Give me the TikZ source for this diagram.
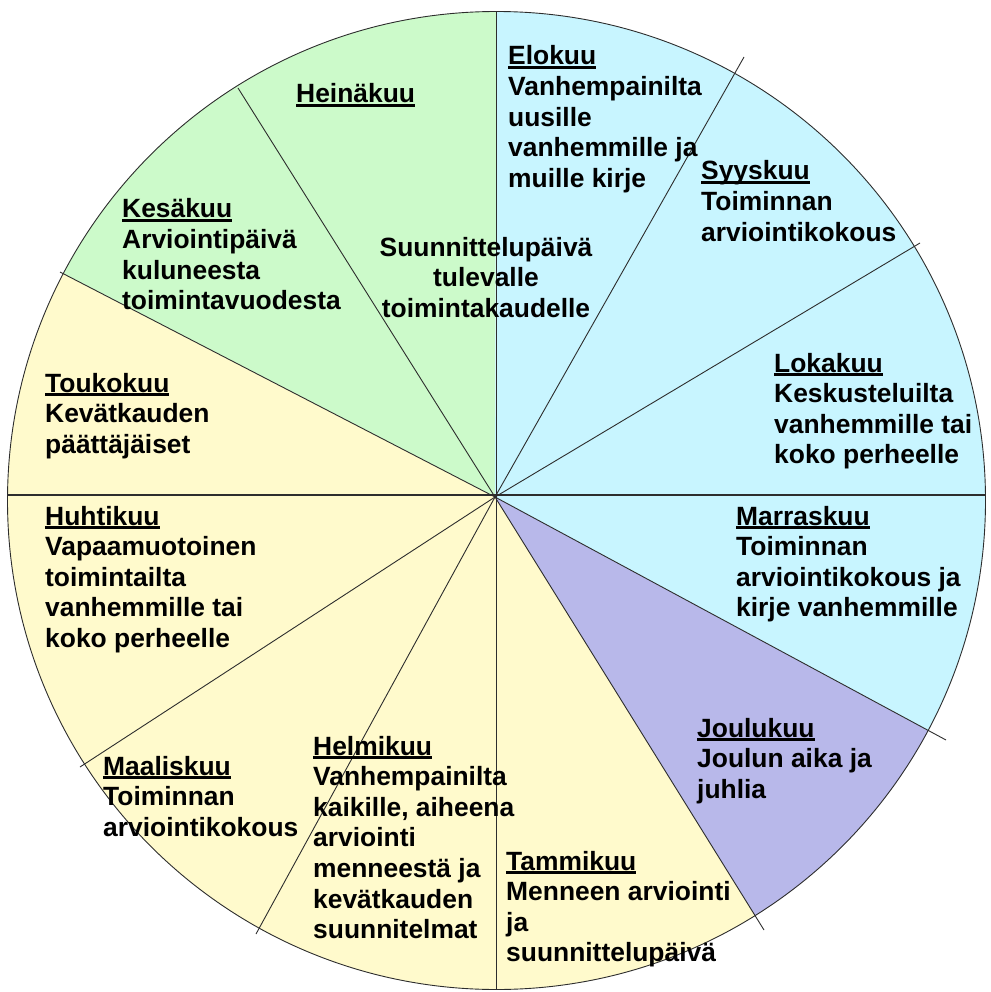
\documentclass[tikz,border=0pt]{standalone}
\usepackage{fontspec}
\setmainfont{Liberation Sans}
\usetikzlibrary{calc}

\definecolor{summergreen}{RGB}{204,250,202}
\definecolor{autumncyan}{RGB}{200,245,255}
\definecolor{springyellow}{RGB}{255,250,204}
\definecolor{xmaslilac}{RGB}{184,184,234}
\definecolor{rimgray}{RGB}{45,45,45}

% month heading with a fixed-depth underline
\newcommand\monthhead[1]{\setbox0=\hbox{#1}\rlap{\rule[-4pt]{\wd0}{2.7pt}}\box0}
% text blocks that hang from the baseline of their first line
\newcommand\leftblock[1]{\begin{tabular}[t]{@{}l@{}}#1\end{tabular}}
\newcommand\midblock[1]{\begin{tabular}[t]{@{}c@{}}#1\end{tabular}}

\tikzset{
  wheelfont/.style={font=\fontsize{26.4pt}{30.6pt}\selectfont\bfseries},
  monthtext/.style={wheelfont, anchor=base west, inner sep=0pt},
  centretext/.style={wheelfont, anchor=base, inner sep=0pt},
  spoke/.style={draw=rimgray, line width=0.9pt},
  axis/.style={draw=rimgray, line width=1.4pt},
  rim/.style={draw=rimgray, line width=0.9pt}
}

\begin{document}
\begin{tikzpicture}[x=1pt,y=-1pt]
\useasboundingbox (0,0) rectangle (990,992);

% wheel centre, hub where the spokes meet, spoke ends on the rim
\coordinate (C) at (496.5,500.5);
\coordinate (S) at (495,497);
\coordinate (e1) at (238,88);
\coordinate (e2) at (60,272);
\coordinate (e4) at (80,767);
\coordinate (e5) at (256,934);
\coordinate (e7) at (764,930);
\coordinate (e8) at (946,740);
\coordinate (e10) at (920,243);
\coordinate (e11) at (744,57);
\coordinate (top) at (496.5,0);
\coordinate (bot) at (496.5,992);
\coordinate (lft) at (0,497);
\coordinate (rgt) at (990,497);

% sector fills, clipped to the wheel
\begin{scope}
  \clip (C) circle[radius=489pt];
  \fill[summergreen] (S) -- ($(S)!2!(top)$) -- ($(S)!1.8!(e1)$) -- ($(S)!1.8!(e2)$) -- cycle;
  \fill[springyellow] (S) -- ($(S)!1.8!(e2)$) -- ($(S)!2!(lft)$) -- ($(S)!1.8!(e4)$)
        -- ($(S)!1.8!(e5)$) -- ($(S)!2!(bot)$) -- ($(S)!1.8!(e7)$) -- cycle;
  \fill[xmaslilac] (S) -- ($(S)!1.8!(e7)$) -- ($(S)!1.8!(e8)$) -- cycle;
  \fill[autumncyan] (S) -- ($(S)!1.8!(e8)$) -- ($(S)!2!(rgt)$) -- ($(S)!1.8!(e10)$)
        -- ($(S)!1.8!(e11)$) -- ($(S)!2!(top)$) -- cycle;
\end{scope}

% rim
\draw[rim] (C) circle[radius=489pt];

% axes
\draw[axis] (496.5,12) -- (496.5,990);
\draw[axis, line width=1.1pt] (8,495) -- (985,495);

% diagonal spokes
\foreach \e in {e1,e2,e4,e5,e7,e8,e10,e11}
  \draw[spoke] (S) -- (\e);

% texts
\node[monthtext] (heina) at (296,103) {\monthhead{Heinäkuu}};
\node[monthtext] (kesa) at (122,218) {\leftblock{\monthhead{Kesäkuu}\\Arviointipäivä\\kuluneesta\\toimintavuodesta}};
\node[monthtext] (touko) at (45,392) {\leftblock{\monthhead{Toukokuu}\\Kevätkauden\\päättäjäiset}};
\node[monthtext] (huhti) at (45,525) {\leftblock{\monthhead{Huhtikuu}\\Vapaamuotoinen\\toimintailta\\vanhemmille tai\\koko perheelle}};
\node[monthtext] (maalis) at (103,775) {\leftblock{\monthhead{Maaliskuu}\\Toiminnan\\arviointikokous}};
\node[monthtext] (helmi) at (313,755) {\leftblock{\monthhead{Helmikuu}\\Vanhempainilta\\kaikille, aiheena\\arviointi\\menneestä ja\\kevätkauden\\suunnitelmat}};
\node[monthtext] (tammi) at (506,870) {\leftblock{\monthhead{Tammikuu}\\Menneen arviointi\\ja\\suunnittelupäivä}};
\node[monthtext] (joulu) at (697,737) {\leftblock{\monthhead{Joulukuu}\\Joulun aika ja\\juhlia}};
\node[monthtext] (marras) at (736,525) {\leftblock{\monthhead{Marraskuu}\\Toiminnan\\arviointikokous ja\\kirje vanhemmille}};
\node[monthtext] (loka) at (774,372) {\leftblock{\monthhead{Lokakuu}\\Keskusteluilta\\vanhemmille tai\\koko perheelle}};
\node[monthtext] (syys) at (701,180) {\leftblock{\monthhead{Syyskuu}\\Toiminnan\\arviointikokous}};
\node[monthtext] (elo) at (508,65) {\leftblock{\monthhead{Elokuu}\\Vanhempainilta\\uusille\\vanhemmille ja\\muille kirje}};
\node[centretext] (suunn) at (486,256) {\midblock{Suunnittelupäivä\\tulevalle\\toimintakaudelle}};
\end{tikzpicture}
\end{document}
